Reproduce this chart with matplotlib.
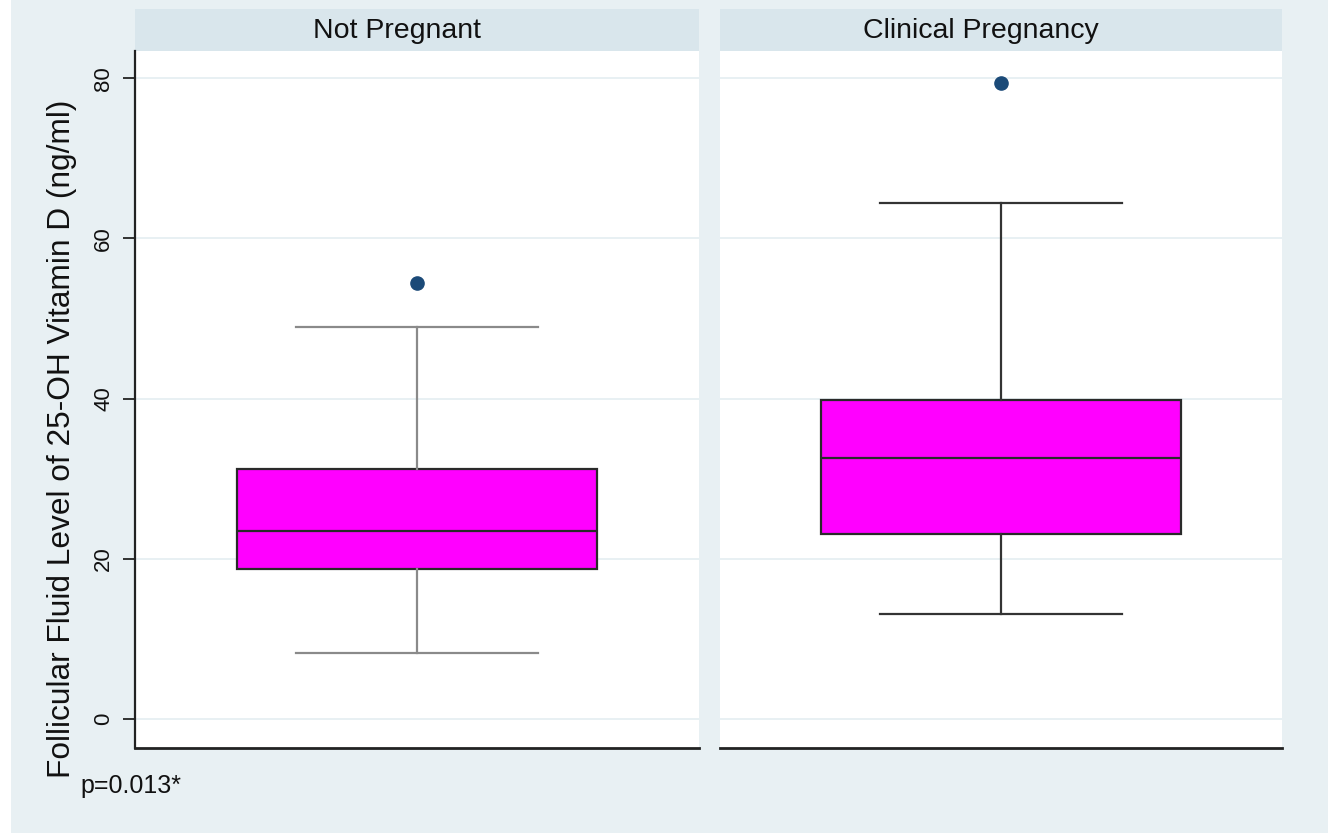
import matplotlib.pyplot as plt
from matplotlib.patches import Rectangle

plt.rcParams['font.family'] = ['Liberation Sans', 'DejaVu Sans']

# summary values (ng/ml)
groups = ['Not Pregnant', 'Clinical Pregnancy']
whislo = [8.3, 13.1]
q1 = [18.8, 23.1]
med = [23.5, 32.6]
q3 = [31.2, 39.9]
whishi = [48.9, 64.4]
outliers = [[54.4], [79.4]]
whisker_colors = ['#8a8a8a', '#333333']

yticks = [0, 20, 40, 60, 80]

W, H = 1331, 833
fig = plt.figure(figsize=(W / 100, H / 100), dpi=100, facecolor='white')

# outer stata-like background
fig.patches.append(Rectangle((11 / W, 0), (1328 - 11) / W, 1, transform=fig.transFigure,
                             facecolor='#e8f0f3', edgecolor='none', zorder=-10))

panels = [(135, 699), (720, 1282)]
ax_top, ax_bot = 51, 748
head_top = 9

for i, (x0, x1) in enumerate(panels):
    ax = fig.add_axes([x0 / W, (H - ax_bot) / H, (x1 - x0) / W, (ax_bot - ax_top) / H])
    ax.set_facecolor('white')
    stats = [dict(whislo=whislo[i], q1=q1[i], med=med[i], q3=q3[i], whishi=whishi[i],
                  fliers=outliers[i])]
    ax.bxp(stats, positions=[0.5], widths=0.64, capwidths=0.43, patch_artist=True,
           boxprops=dict(facecolor='#ff00ff', edgecolor='#2a2a2a', linewidth=1.6),
           medianprops=dict(color='#2a2a2a', linewidth=1.6),
           whiskerprops=dict(color=whisker_colors[i], linewidth=1.6),
           capprops=dict(color=whisker_colors[i], linewidth=1.6),
           flierprops=dict(marker='o', markerfacecolor='#1b4a78', markeredgecolor='#1b4a78',
                           markersize=9.5))
    ax.set_xlim(0, 1)
    ax.set_ylim(-3.6, 83.4)
    ax.set_xticks([])
    ax.set_yticks(yticks)
    ax.yaxis.grid(True, color='#e6eff2', linewidth=1.3)
    ax.set_axisbelow(True)
    for s in ['top', 'right']:
        ax.spines[s].set_visible(False)
    ax.spines['bottom'].set_linewidth(2)
    ax.spines['bottom'].set_color('#222222')
    if i == 0:
        ax.spines['left'].set_linewidth(1.6)
        ax.spines['left'].set_color('#222222')
        ax.tick_params(axis='y', length=9, width=1.3, color='#222222', pad=6,
                       labelsize=16, labelrotation=90, labelcolor='#111111')
        for lab in ax.get_yticklabels():
            lab.set_va('center')
    else:
        ax.spines['left'].set_visible(False)
        ax.tick_params(axis='y', length=0, labelleft=False)

    # strip header
    fig.patches.append(Rectangle((x0 / W, (H - ax_top) / H), (x1 - x0) / W, (ax_top - head_top) / H,
                                 transform=fig.transFigure, facecolor='#d9e6ec',
                                 edgecolor='none', zorder=-5))
    fig.text(((x0 + x1) / 2 - 20) / W, (H - 31) / H, groups[i],
             ha='center', va='center', fontsize=20.5, color='#111111')

fig.text(62 / W, (H - 439) / H, 'Follicular Fluid Level of 25-OH Vitamin D (ng/ml)',
         rotation=90, ha='center', va='center', fontsize=22.8, color='#111111')
fig.text(80 / W, (H - 786) / H, 'p=0.013*', ha='left', va='center', fontsize=18,
         color='#111111')

fig.savefig('out.png', dpi=100, facecolor=fig.get_facecolor())
